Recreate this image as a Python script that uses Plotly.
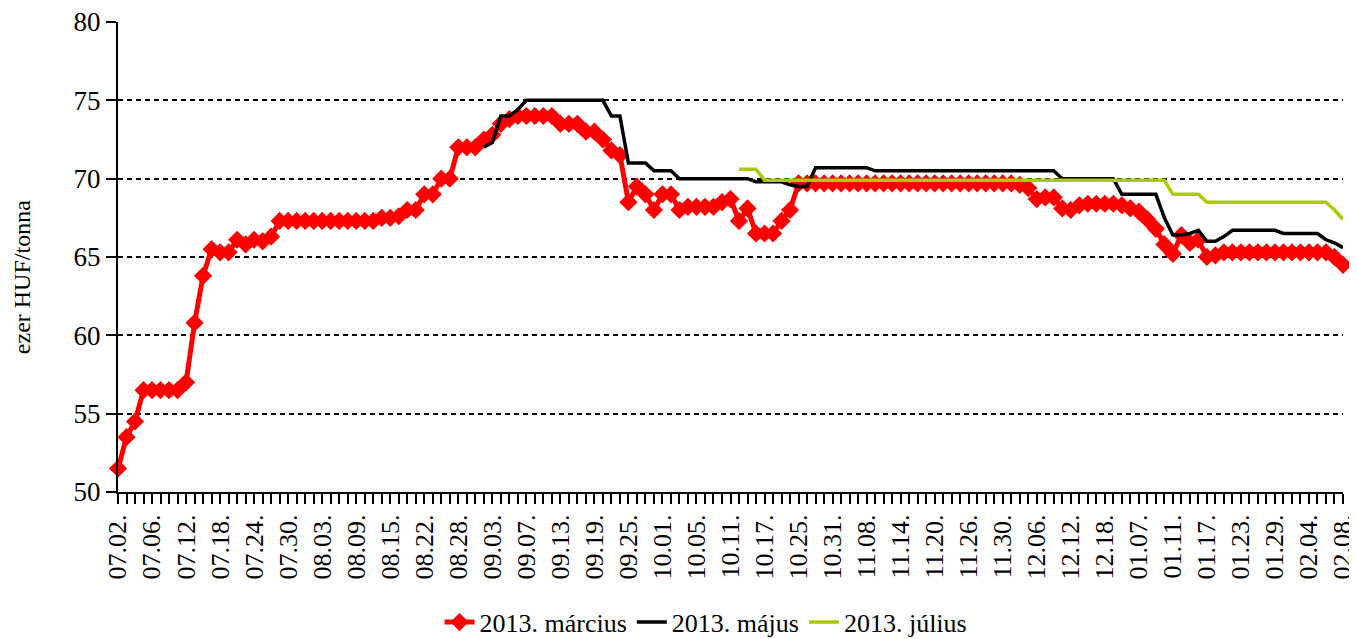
import plotly.graph_objects as go

FONT = "Liberation Serif"
RED = "#FF0000"
BLACK = "#000000"
GREEN = "#A8CC00"

# every 4th trading day is labelled on the axis
tick_labels = [
    "07.02.", "07.06.", "07.12.", "07.18.", "07.24.", "07.30.", "08.03.", "08.09.",
    "08.15.", "08.22.", "08.28.", "09.03.", "09.07.", "09.13.", "09.19.", "09.25.",
    "10.01.", "10.05.", "10.11.", "10.17.", "10.25.", "10.31.", "11.08.", "11.14.",
    "11.20.", "11.26.", "11.30.", "12.06.", "12.12.", "12.18.", "01.07.", "01.11.",
    "01.17.", "01.23.", "01.29.", "02.04.", "02.08.",
]

marcius = [
    51.5, 53.5, 54.5, 56.5, 56.5, 56.5, 56.5, 56.5, 57.0, 60.8,
    63.8, 65.5, 65.3, 65.3, 66.1, 65.8, 66.1, 66.0, 66.3, 67.3,
    67.3, 67.3, 67.3, 67.3, 67.3, 67.3, 67.3, 67.3, 67.3, 67.3,
    67.3, 67.5, 67.5, 67.6, 68.0, 68.0, 69.0, 69.0, 70.0, 70.0,
    72.0, 72.0, 72.0, 72.5, 72.8, 73.5, 73.8, 74.0, 74.0, 74.0,
    74.0, 74.0, 73.5, 73.5, 73.5, 73.0, 73.0, 72.5, 71.8, 71.5,
    68.5, 69.5, 69.0, 68.0, 69.0, 69.0, 68.0, 68.2, 68.2, 68.2,
    68.2, 68.5, 68.7, 67.3, 68.1, 66.5, 66.5, 66.5, 67.3, 68.0,
    69.7, 69.7, 69.7, 69.7, 69.7, 69.7, 69.7, 69.7, 69.7, 69.7,
    69.7, 69.7, 69.7, 69.7, 69.7, 69.7, 69.7, 69.7, 69.7, 69.7,
    69.7, 69.7, 69.7, 69.7, 69.7, 69.7, 69.6, 69.4, 68.7, 68.8,
    68.8, 68.1, 68.0, 68.3, 68.4, 68.4, 68.4, 68.4, 68.3, 68.1,
    67.9, 67.4, 66.8, 65.8, 65.2, 66.4, 65.9, 66.1, 65.0, 65.1,
    65.3, 65.3, 65.3, 65.3, 65.3, 65.3, 65.3, 65.3, 65.3, 65.3,
    65.3, 65.3, 65.3, 65.0, 64.5,
]

majus = [None] * 43 + [
    72.0, 72.3, 74.0, 74.0, 74.4, 75.0, 75.0, 75.0, 75.0, 75.0,
    75.0, 75.0, 75.0, 75.0, 75.0, 74.0, 74.0, 71.0, 71.0, 71.0,
    70.5, 70.5, 70.5, 70.0, 70.0, 70.0, 70.0, 70.0, 70.0, 70.0,
    70.0, 70.0, 69.8, 69.8, 69.8, 69.8, 69.6, 69.5, 69.5, 70.7,
    70.7, 70.7, 70.7, 70.7, 70.7, 70.7, 70.5, 70.5, 70.5, 70.5,
    70.5, 70.5, 70.5, 70.5, 70.5, 70.5, 70.5, 70.5, 70.5, 70.5,
    70.5, 70.5, 70.5, 70.5, 70.5, 70.5, 70.5, 70.5, 70.0, 70.0,
    70.0, 70.0, 70.0, 70.0, 70.0, 69.0, 69.0, 69.0, 69.0, 69.0,
    67.5, 66.4, 66.4, 66.5, 66.7, 66.0, 66.0, 66.3, 66.7, 66.7,
    66.7, 66.7, 66.7, 66.7, 66.5, 66.5, 66.5, 66.5, 66.5, 66.1,
    65.9, 65.6,
]

julius = [None] * 73 + [
    70.6, 70.6, 70.6, 69.9, 69.9, 69.9, 69.9, 69.9, 69.9, 69.9,
    69.9, 69.9, 69.9, 69.9, 69.9, 69.9, 69.9, 69.9, 69.9, 69.9,
    69.9, 69.9, 69.9, 69.9, 69.9, 69.9, 69.9, 69.9, 69.9, 69.9,
    69.9, 69.9, 69.9, 69.9, 69.9, 69.9, 69.9, 69.9, 69.9, 69.9,
    69.9, 69.9, 69.9, 69.9, 69.9, 69.9, 69.9, 69.9, 69.9, 69.9,
    69.9, 69.0, 69.0, 69.0, 69.0, 68.5, 68.5, 68.5, 68.5, 68.5,
    68.5, 68.5, 68.5, 68.5, 68.5, 68.5, 68.5, 68.5, 68.5, 68.5,
    68.0, 67.4,
]

days = list(range(len(marcius)))
tick_step = (len(days) - 1) // (len(tick_labels) - 1)

fig = go.Figure()

fig.add_trace(
    go.Scatter(
        x=days,
        y=marcius,
        mode="lines+markers",
        name="2013. március",
        line=dict(color=RED, width=5),
        marker=dict(symbol="diamond", size=14, color=RED),
        cliponaxis=False,
    )
)
fig.add_trace(
    go.Scatter(
        x=days,
        y=majus,
        mode="lines",
        name="2013. május",
        line=dict(color=BLACK, width=3.5),
        cliponaxis=False,
    )
)
fig.add_trace(
    go.Scatter(
        x=days,
        y=julius,
        mode="lines",
        name="2013. július",
        line=dict(color=GREEN, width=3.5),
        cliponaxis=False,
    )
)

# the page body adds an 8px offset, so the figure is a bit smaller than the window
fig.update_layout(
    width=1349,
    height=631,
    margin=dict(l=110, r=14, t=14, b=147, autoexpand=False),
    paper_bgcolor="white",
    plot_bgcolor="white",
    font=dict(family=FONT, size=26, color="black"),
    showlegend=True,
    legend=dict(
        orientation="h",
        xanchor="center",
        x=0.48,
        yanchor="middle",
        y=-0.277,
        font=dict(size=26),
        itemwidth=30,
        tracegroupgap=0,
    ),
)

fig.add_annotation(
    text="ezer HUF/tonna",
    xref="paper",
    yref="paper",
    x=-0.0784,
    y=0.457,
    xanchor="center",
    yanchor="middle",
    textangle=-90,
    showarrow=False,
    font=dict(size=24),
)

fig.update_xaxes(
    range=[0, len(days) - 1],
    automargin=False,
    ticklabeloverflow="allow",
    tickmode="array",
    tickvals=days[::tick_step],
    ticktext=tick_labels,
    tickangle=-90,
    tickfont=dict(size=26),
    ticks="outside",
    ticklen=10,
    tickwidth=2,
    tickcolor="black",
    minor=dict(tickmode="linear", tick0=0, dtick=1, ticks="outside",
               ticklen=10, tickwidth=2, tickcolor="black", showgrid=False),
    showline=True,
    linecolor="black",
    linewidth=2,
    showgrid=False,
    zeroline=False,
)

fig.update_yaxes(
    range=[50, 80],
    automargin=False,
    ticklabeloverflow="allow",
    dtick=5,
    ticks="outside",
    ticklen=10,
    tickwidth=2,
    tickcolor="black",
    tickfont=dict(size=27),
    showline=True,
    linecolor="black",
    linewidth=2,
    showgrid=True,
    gridcolor="black",
    gridwidth=2,
    griddash="5px,4px",
    zeroline=False,
)

fig.write_html("out.html")
